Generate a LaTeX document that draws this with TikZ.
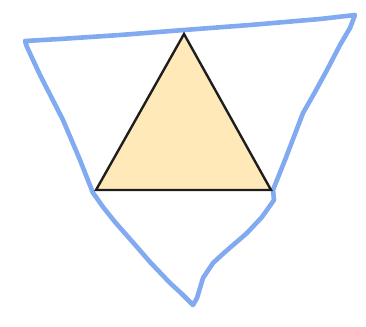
\documentclass[tikz,border=0pt]{standalone}
\begin{document}
\begin{tikzpicture}[x=1pt,y=-1pt,
  sketch/.style={draw={rgb,255:red,130;green,170;blue,240},line width=4.6pt,line join=round,line cap=round},
  tri/.style={draw={rgb,255:red,30;green,30;blue,30},fill={rgb,255:red,255;green,233;blue,184},line width=2.4pt,line join=miter}]
\useasboundingbox (0,0) rectangle (366,326);
\coordinate (A) at (184,34);
\coordinate (B) at (96,190);
\coordinate (C) at (271,190);
\draw[sketch] (25,41) -- (60,39) -- (120,35) -- (184,30) -- (250,25) -- (320,19) -- (355,15)
  -- (350,28) -- (340,45) -- (327,70) -- (315,92) -- (303,113) -- (285,160) -- (273,190)
  -- (274,200) -- (262,217) -- (247,233) -- (225,252) -- (213,263) -- (203,278) -- (197,298) -- (193,305)
  -- (182,294) -- (170,283) -- (150,262) -- (137,247) -- (115,222) -- (103,207) -- (96,197) -- (93,193)
  -- (80,160) -- (63,120) -- (40,75) -- (27,47) -- cycle;
\draw[tri] (A) -- (B) -- (C) -- cycle;
\end{tikzpicture}
\end{document}
